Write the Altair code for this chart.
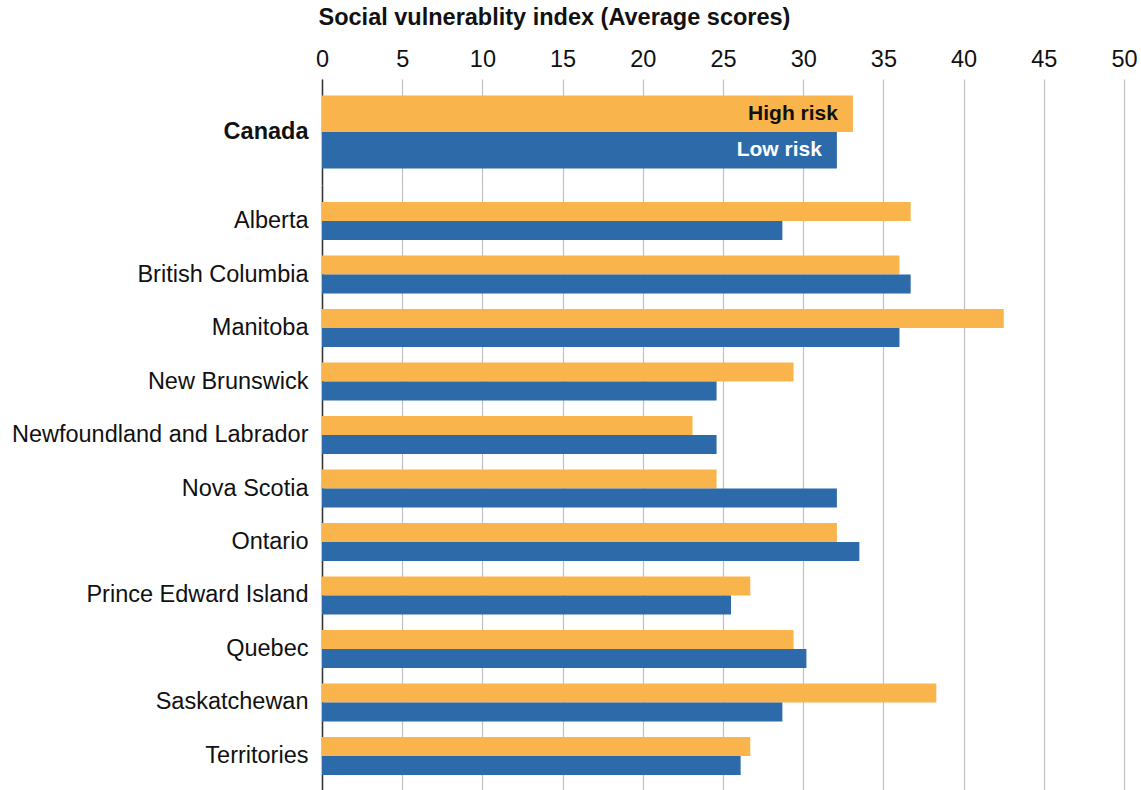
import altair as alt
import pandas as pd

regions = ["Canada", "Alberta", "British Columbia", "Manitoba", "New Brunswick",
           "Newfoundland and Labrador", "Nova Scotia", "Ontario",
           "Prince Edward Island", "Quebec", "Saskatchewan", "Territories"]
high_risk = [33.1, 36.7, 36.0, 42.5, 29.4, 23.1, 24.6, 32.1, 26.7, 29.4, 38.3, 26.7]
low_risk = [32.1, 28.7, 36.7, 36.0, 24.6, 24.6, 32.1, 33.5, 25.5, 30.2, 28.7, 26.1]
series = ["High risk", "Low risk"]
x_ticks = [0, 5, 10, 15, 20, 25, 30, 35, 40, 45, 50]

rows = []
for r, h, l in zip(regions, high_risk, low_risk):
    rows.append({"region": r, "series": series[0], "value": h})
    rows.append({"region": r, "series": series[1], "value": l})
df = pd.DataFrame(rows)
df_can = df[df.region == "Canada"]
df_prov = df[df.region != "Canada"]

FONT = "Liberation Sans"
ORANGE = "#F9B44C"
BLUE = "#2D6AAA"
GRID = "#C0C0C0"
W = 802
EXT = 312

color = alt.Color("series:N", scale=alt.Scale(domain=series, range=[ORANGE, BLUE]), legend=None)
yoff = alt.YOffset("series:N", sort=series, scale=alt.Scale(paddingInner=0, paddingOuter=0))

x_top = alt.X("value:Q", scale=alt.Scale(domain=[0, 50], nice=False),
              axis=alt.Axis(orient="top", values=x_ticks, grid=True, gridColor=GRID, gridWidth=1.2,
                            domain=False, ticks=False, labelFontSize=23.5, labelColor="#111",
                            labelPadding=8, labelFont=FONT, labelFlush=False,
                            title="Social vulnerablity index (Average scores)",
                            titleFontSize=23.5, titleFontWeight="bold", titleColor="#111",
                            titleAnchor="start", titleAlign="left", titlePadding=18, titleFont=FONT,
                            titleX=-4))
x_bottom = alt.X("value:Q", scale=alt.Scale(domain=[0, 50], nice=False),
                 axis=alt.Axis(values=x_ticks, grid=True, gridColor=GRID, gridWidth=1.2,
                               domain=False, ticks=False, labels=False, title=None))

y_can = alt.Y("region:N", title=None,
              scale=alt.Scale(paddingInner=0, paddingOuter=0.226),
              axis=alt.Axis(domain=True, domainColor="#333", domainWidth=1.5, ticks=False,
                            labelFontSize=23.5, labelFontWeight="bold", labelColor="#111",
                            labelPadding=14, labelFont=FONT, minExtent=EXT, maxExtent=EXT))
y_prov = alt.Y("region:N", title=None, sort=regions[1:],
               scale=alt.Scale(paddingInner=0.29, paddingOuter=0.318),
               axis=alt.Axis(domain=True, domainColor="#333", domainWidth=1.5, ticks=False,
                             labelFontSize=23.5, labelColor="#111", labelLimit=400,
                             labelPadding=14, labelFont=FONT, minExtent=EXT, maxExtent=EXT))

can_bars = alt.Chart(df_can).mark_bar().encode(x=x_top, y=y_can, yOffset=yoff, color=color)
can_text = alt.Chart(df_can).mark_text(align="right", baseline="middle", dx=-15,
                                       fontSize=21, fontWeight="bold", font=FONT).encode(
    x="value:Q", y="region:N", yOffset=yoff, text="series:N",
    color=alt.condition(alt.datum.series == "High risk", alt.value("#111"), alt.value("white")))
canada = alt.layer(can_bars, can_text).properties(width=W, height=106)

prov = alt.Chart(df_prov).mark_bar().encode(x=x_bottom, y=y_prov, yOffset=yoff, color=color
                                           ).properties(width=W, height=607)

chart = alt.vconcat(canada, prov, spacing=0).resolve_scale(
    yOffset="independent"
).properties(
    padding={"left": 10, "top": 5, "right": 0, "bottom": 0}
).configure(font=FONT).configure_view(stroke=None)

chart.save("out.html", embed_options={"renderer": "svg", "actions": False})
